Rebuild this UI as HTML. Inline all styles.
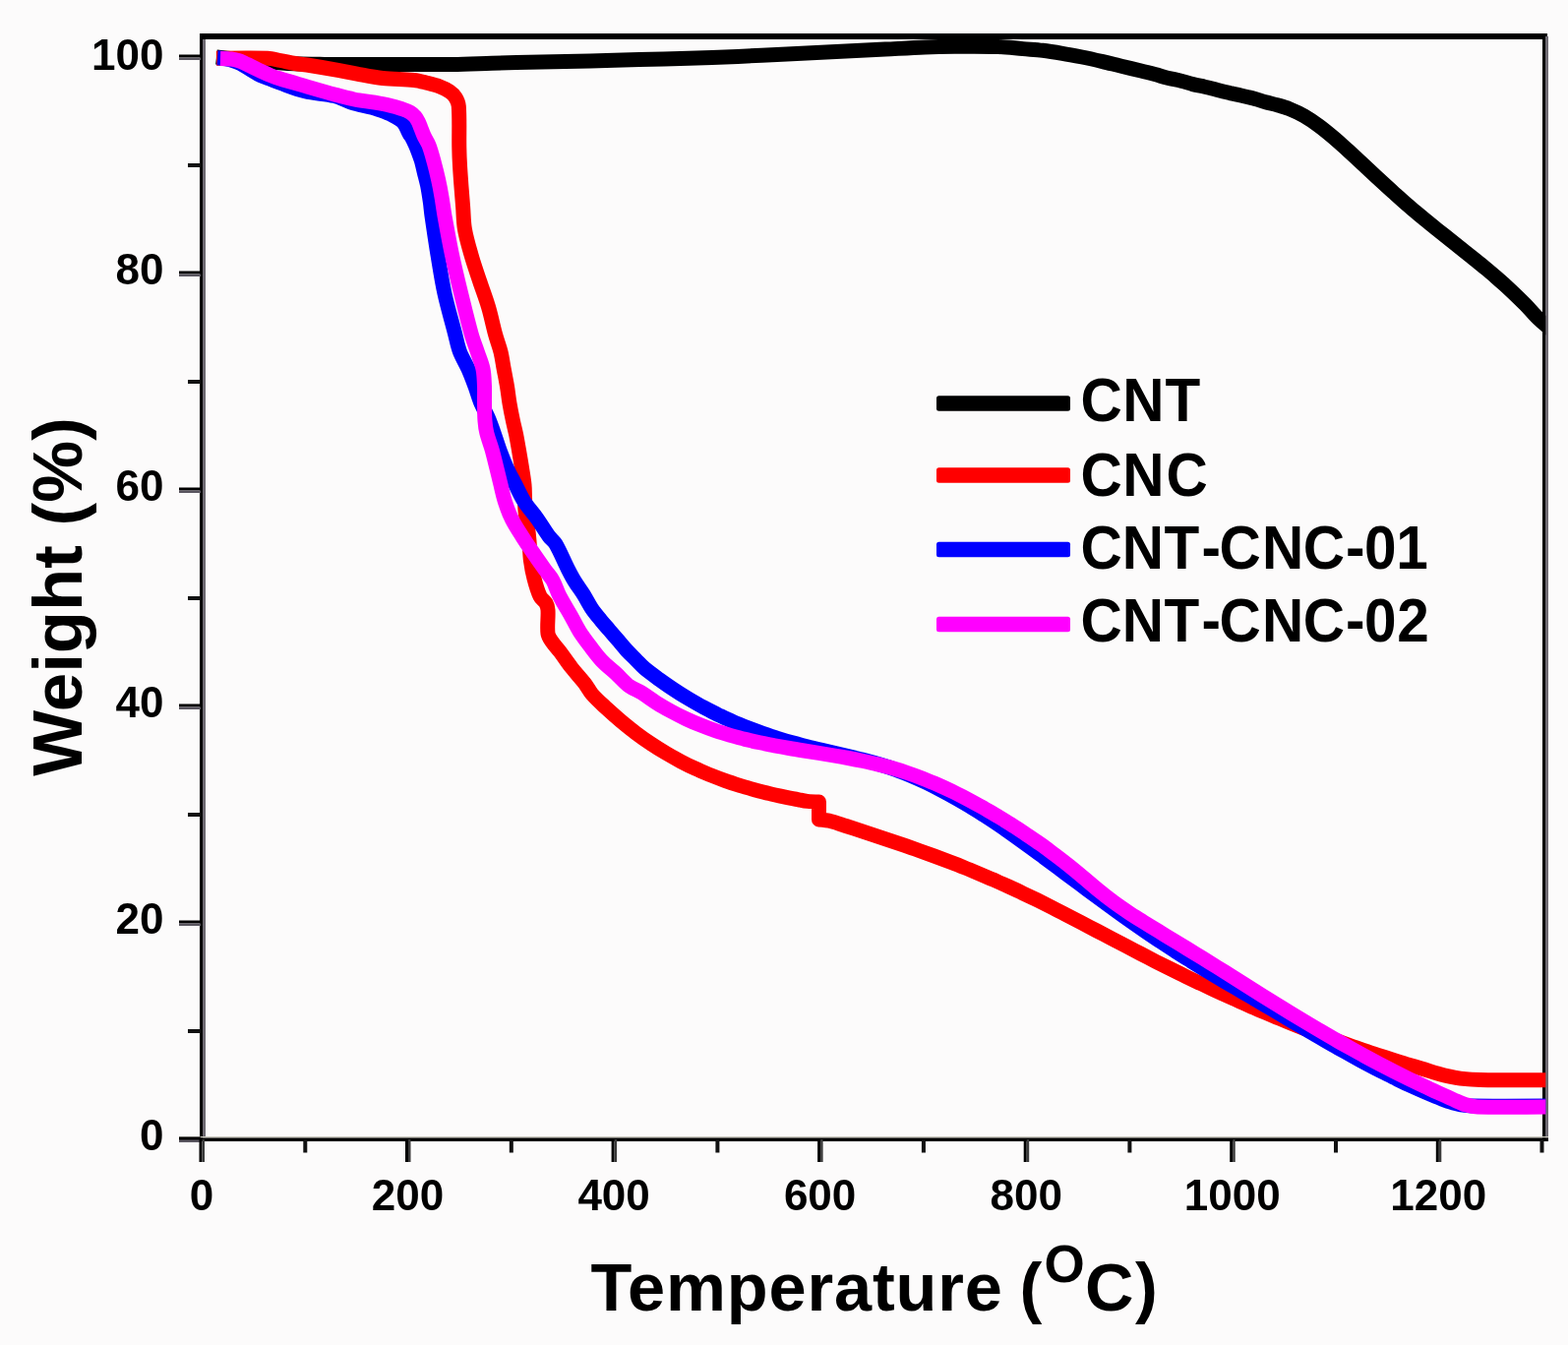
<!DOCTYPE html>
<html><head><meta charset="utf-8"><title>TGA</title>
<style>
html,body{margin:0;padding:0;background:#fcfbfb;}
svg{display:block;}
.tl{font-family:"Liberation Sans",Arial,sans-serif;font-weight:bold;font-size:44px;fill:#000;}
.lg{font-family:"Liberation Sans",Arial,sans-serif;font-weight:bold;font-size:58.5px;fill:#000;}
.ax{font-family:"Liberation Sans",Arial,sans-serif;font-weight:bold;fill:#000;}
</style></head>
<body>
<svg width="1594" height="1367" viewBox="0 0 1594 1367">
<rect x="0" y="0" width="1594" height="1367" fill="#fcfbfb"/>
<!-- frame -->
<rect x="203" y="34" width="1370" height="6" fill="#000"/>
<rect x="203" y="34" width="3" height="1126" fill="#000"/>
<rect x="206" y="40" width="3" height="1115" fill="#6e6a72"/>
<rect x="1568" y="34" width="3" height="1126" fill="#000"/>
<rect x="1571" y="37" width="3" height="1123" fill="#6e6a72"/>
<rect x="182" y="1155" width="1392" height="1.5" fill="#c9c7bd"/>
<rect x="182" y="1156.5" width="1392" height="3.5" fill="#000"/>
<rect x="182" y="1155.5" width="22" height="3" fill="#000"/><rect x="182" y="1158.5" width="22" height="2.5" fill="#5a5660"/><text x="166.5" y="1169.0" text-anchor="end" class="tl">0</text><rect x="182" y="935.5" width="22" height="3" fill="#000"/><rect x="182" y="938.5" width="22" height="2.5" fill="#5a5660"/><text x="166.5" y="949.0" text-anchor="end" class="tl">20</text><rect x="182" y="715.5" width="22" height="3" fill="#000"/><rect x="182" y="718.5" width="22" height="2.5" fill="#5a5660"/><text x="166.5" y="729.0" text-anchor="end" class="tl">40</text><rect x="182" y="495.5" width="22" height="3" fill="#000"/><rect x="182" y="498.5" width="22" height="2.5" fill="#5a5660"/><text x="166.5" y="509.0" text-anchor="end" class="tl">60</text><rect x="182" y="275.5" width="22" height="3" fill="#000"/><rect x="182" y="278.5" width="22" height="2.5" fill="#5a5660"/><text x="166.5" y="289.0" text-anchor="end" class="tl">80</text><rect x="182" y="55.5" width="22" height="3" fill="#000"/><rect x="182" y="58.5" width="22" height="2.5" fill="#5a5660"/><text x="166.5" y="71.0" text-anchor="end" class="tl">100</text><rect x="191" y="1046.0" width="13" height="4" fill="#111"/><rect x="191" y="826.0" width="13" height="4" fill="#111"/><rect x="191" y="606.0" width="13" height="4" fill="#111"/><rect x="191" y="386.0" width="13" height="4" fill="#111"/><rect x="191" y="166.0" width="13" height="4" fill="#111"/><rect x="202.5" y="1158" width="3" height="23" fill="#000"/><rect x="205.5" y="1158" width="2.5" height="23" fill="#3a3a3a"/><text x="205.0" y="1229.5" text-anchor="middle" class="tl">0</text><rect x="308.3" y="1158" width="4" height="13.5" fill="#111"/><rect x="412.0" y="1158" width="3" height="23" fill="#000"/><rect x="415.0" y="1158" width="2.5" height="23" fill="#3a3a3a"/><text x="414.5" y="1229.5" text-anchor="middle" class="tl">200</text><rect x="517.8" y="1158" width="4" height="13.5" fill="#111"/><rect x="621.6" y="1158" width="3" height="23" fill="#000"/><rect x="624.6" y="1158" width="2.5" height="23" fill="#3a3a3a"/><text x="624.1" y="1229.5" text-anchor="middle" class="tl">400</text><rect x="727.4" y="1158" width="4" height="13.5" fill="#111"/><rect x="831.1" y="1158" width="3" height="23" fill="#000"/><rect x="834.1" y="1158" width="2.5" height="23" fill="#3a3a3a"/><text x="833.6" y="1229.5" text-anchor="middle" class="tl">600</text><rect x="936.9" y="1158" width="4" height="13.5" fill="#111"/><rect x="1040.7" y="1158" width="3" height="23" fill="#000"/><rect x="1043.7" y="1158" width="2.5" height="23" fill="#3a3a3a"/><text x="1043.2" y="1229.5" text-anchor="middle" class="tl">800</text><rect x="1146.4" y="1158" width="4" height="13.5" fill="#111"/><rect x="1250.2" y="1158" width="3" height="23" fill="#000"/><rect x="1253.2" y="1158" width="2.5" height="23" fill="#3a3a3a"/><text x="1252.7" y="1229.5" text-anchor="middle" class="tl">1000</text><rect x="1356.0" y="1158" width="4" height="13.5" fill="#111"/><rect x="1459.8" y="1158" width="3" height="23" fill="#000"/><rect x="1462.8" y="1158" width="2.5" height="23" fill="#3a3a3a"/><text x="1462.3" y="1229.5" text-anchor="middle" class="tl">1200</text><rect x="1565.5" y="1158" width="4" height="13.5" fill="#111"/>
<defs><clipPath id="pc"><rect x="150" y="0" width="1421.3" height="1367"/></clipPath></defs>
<g fill="none" stroke-width="15" stroke-linejoin="round" stroke-linecap="butt" clip-path="url(#pc)">
<path stroke="#000" d="M220.0,58.0 C220.0,58.0 246.6,60.9 260.0,62.0 C273.3,63.1 286.6,64.2 300.0,64.8 C310.0,65.3 320.0,65.3 330.0,65.4 C353.3,65.5 376.7,65.4 400.0,65.4 C420.0,65.4 440.0,65.6 460.0,65.4 C473.3,65.2 486.7,64.6 500.0,64.2 C516.7,63.8 533.3,63.4 550.0,63.0 C566.7,62.6 583.3,62.4 600.0,62.0 C616.7,61.6 633.3,61.0 650.0,60.5 C666.7,60.1 683.3,59.8 700.0,59.3 C716.7,58.8 733.3,58.1 750.0,57.4 C766.7,56.7 783.3,55.8 800.0,55.0 C816.7,54.2 833.3,53.2 850.0,52.4 C866.7,51.6 883.3,50.9 900.0,50.1 C913.3,49.4 926.7,48.5 940.0,48.0 C950.0,47.6 960.0,47.4 970.0,47.3 C985.0,47.2 1000.0,47.0 1015.0,47.5 C1023.4,47.8 1031.7,48.9 1040.0,49.6 C1046.7,50.2 1053.4,50.5 1060.0,51.3 C1066.7,52.1 1073.4,53.2 1080.0,54.3 C1086.7,55.4 1093.4,56.7 1100.0,58.0 C1107.0,59.4 1114.0,61.0 1121.0,62.6 C1127.4,64.1 1133.7,65.8 1140.0,67.3 C1146.7,68.9 1153.3,70.4 1160.0,72.0 C1165.0,73.2 1170.0,74.5 1175.0,75.8 C1179.0,76.9 1183.0,78.2 1187.0,79.2 C1191.5,80.3 1196.2,81.1 1200.7,82.2 C1204.7,83.2 1208.7,84.6 1212.7,85.6 C1216.7,86.6 1220.7,87.3 1224.7,88.2 C1228.7,89.1 1232.8,90.2 1236.8,91.2 C1241.3,92.3 1245.8,93.5 1250.3,94.6 C1254.3,95.5 1258.4,96.3 1262.4,97.2 C1266.9,98.3 1271.4,99.4 1275.9,100.6 C1279.5,101.6 1282.9,102.7 1286.5,103.7 C1290.5,104.8 1294.5,105.6 1298.5,106.7 C1302.6,107.9 1306.7,109.0 1310.6,110.6 C1315.7,112.7 1320.8,115.0 1325.6,117.7 C1330.8,120.7 1335.8,124.1 1340.6,127.7 C1345.8,131.5 1350.7,135.6 1355.6,139.7 C1360.7,144.0 1365.6,148.6 1370.6,153.1 C1375.6,157.7 1380.6,162.4 1385.6,167.0 C1390.6,171.7 1395.6,176.4 1400.6,181.0 C1405.6,185.6 1410.6,190.2 1415.6,194.7 C1420.6,199.2 1425.5,203.7 1430.6,208.1 C1435.5,212.4 1440.6,216.6 1445.6,220.8 C1450.6,224.9 1455.6,229.0 1460.6,233.0 C1465.6,237.0 1470.6,240.9 1475.6,244.9 C1480.6,248.9 1485.6,252.8 1490.6,256.8 C1495.6,260.8 1500.6,264.8 1505.6,268.9 C1510.6,273.1 1515.7,277.2 1520.6,281.5 C1525.7,285.9 1530.7,290.4 1535.6,295.0 C1540.7,299.8 1545.7,304.6 1550.6,309.6 C1555.2,314.3 1559.4,319.4 1564.1,324.0 C1568.5,328.2 1578.0,336.0 1578.0,336.0"/>
<path stroke="#f00" d="M220.0,59.3 C220.0,59.3 254.7,58.7 272.0,59.3 C276.4,59.4 280.7,60.7 285.0,61.5 C290.0,62.4 295.0,63.7 300.0,64.5 C305.0,65.3 310.0,65.7 315.0,66.5 C325.0,68.1 335.0,69.8 345.0,71.6 C351.0,72.7 357.0,74.0 363.0,75.1 C371.7,76.7 380.3,78.5 389.0,79.5 C399.6,80.7 410.4,80.4 421.0,81.5 C425.1,81.9 429.0,83.0 433.0,84.0 C437.7,85.2 442.5,86.3 447.0,88.0 C450.5,89.3 453.9,90.9 457.0,93.0 C459.3,94.6 461.5,96.6 463.0,99.0 C464.7,101.7 466.1,104.8 466.3,108.0 C467.3,122.0 466.5,136.0 466.8,150.0 C466.9,156.7 467.2,163.3 467.6,170.0 C468.0,176.7 468.5,183.3 469.0,190.0 C469.5,196.7 470.1,203.3 470.6,210.0 C471.2,217.6 471.1,225.2 472.4,232.7 C473.9,241.6 476.5,250.3 479.0,259.0 C481.5,267.9 484.6,276.6 487.5,285.4 C490.4,294.2 493.8,302.8 496.4,311.7 C499.2,321.0 501.0,330.6 503.6,340.0 C505.2,345.9 507.5,351.6 509.0,357.6 C510.4,363.3 511.1,369.2 512.2,375.0 C513.3,380.9 514.5,386.8 515.5,392.7 C516.5,398.4 517.0,404.3 518.0,410.0 C519.0,416.0 520.2,422.0 521.5,428.0 C522.5,432.7 523.7,437.3 524.7,442.0 C525.7,447.2 526.6,452.4 527.5,457.6 C528.5,463.4 529.5,469.2 530.4,475.0 C531.3,480.9 532.4,486.8 533.0,492.7 C533.4,496.8 533.3,500.9 533.5,505.0 C533.7,509.7 533.6,514.4 534.0,519.0 C534.6,524.7 535.8,530.3 536.5,536.0 C537.1,540.7 537.6,545.3 538.0,550.0 C538.6,556.7 538.6,563.4 539.5,570.0 C540.3,576.1 541.4,582.1 543.0,588.0 C544.6,594.1 546.3,600.3 549.0,606.0 C550.3,608.8 553.5,610.3 555.0,613.0 C556.2,615.1 556.8,617.6 557.0,620.0 C557.5,628.0 556.0,636.1 557.0,644.0 C557.4,647.0 559.3,649.5 561.0,652.0 C563.4,655.6 566.4,658.6 569.0,662.0 C573.1,667.4 576.8,673.1 581.0,678.5 C585.3,684.0 590.2,689.1 594.5,694.6 C597.2,698.1 599.1,702.3 602.0,705.6 C606.6,710.9 611.9,715.5 617.0,720.3 C621.9,724.8 626.9,729.2 632.0,733.5 C636.9,737.6 641.9,741.6 647.0,745.4 C651.9,749.1 656.9,752.6 662.0,756.0 C666.9,759.3 671.9,762.4 677.0,765.4 C681.9,768.3 686.9,771.1 692.0,773.8 C696.9,776.4 701.9,778.9 707.0,781.2 C711.9,783.5 717.0,785.6 722.0,787.7 C727.0,789.7 732.0,791.6 737.0,793.4 C742.0,795.2 747.0,796.8 752.0,798.4 C757.0,799.9 762.0,801.3 767.0,802.7 C772.0,804.0 777.0,805.3 782.0,806.5 C787.0,807.7 792.0,808.8 797.0,809.9 C802.0,810.9 807.0,811.9 812.0,812.8 C814.9,813.4 817.8,814.1 820.8,814.4 C824.7,814.8 832.5,815.0 832.5,815.0 C832.5,815.0 832.5,833.0 832.5,833.0 C832.5,833.0 840.9,833.7 845.0,834.7 C850.1,835.9 855.0,837.9 860.0,839.5 C865.0,841.1 870.0,842.8 875.0,844.4 C880.0,846.0 885.0,847.7 890.0,849.3 C895.0,851.0 900.0,852.6 905.0,854.3 C910.0,856.0 915.0,857.7 920.0,859.4 C925.0,861.1 930.0,862.9 935.0,864.7 C940.0,866.5 945.0,868.3 950.0,870.1 C955.0,872.0 960.0,873.9 965.0,875.8 C970.0,877.7 975.0,879.6 980.0,881.6 C985.0,883.6 990.0,885.7 995.0,887.8 C1000.0,889.9 1005.0,892.0 1010.0,894.2 C1015.0,896.4 1020.0,898.6 1025.0,900.9 C1030.0,903.2 1035.0,905.5 1040.0,907.9 C1045.0,910.3 1050.0,912.7 1055.0,915.1 C1060.0,917.6 1065.0,920.1 1070.0,922.6 C1075.0,925.1 1080.0,927.7 1085.0,930.3 C1090.0,932.9 1095.0,935.5 1100.0,938.1 C1105.0,940.7 1110.0,943.4 1115.0,946.0 C1120.0,948.6 1125.0,951.3 1130.0,953.9 C1135.0,956.5 1140.0,959.1 1145.0,961.7 C1150.0,964.3 1155.0,966.9 1160.0,969.5 C1165.0,972.1 1170.0,974.7 1175.0,977.3 C1180.0,979.8 1185.0,982.3 1190.0,984.8 C1195.0,987.3 1200.0,989.8 1205.0,992.2 C1210.0,994.6 1215.0,997.0 1220.0,999.4 C1225.0,1001.8 1230.0,1004.1 1235.0,1006.4 C1240.0,1008.7 1245.0,1011.0 1250.0,1013.3 C1255.0,1015.6 1260.0,1017.8 1265.0,1020.0 C1270.0,1022.2 1275.0,1024.3 1280.0,1026.5 C1285.0,1028.6 1290.0,1030.8 1295.0,1032.9 C1300.0,1035.0 1305.0,1037.0 1310.0,1039.0 C1315.0,1041.0 1320.0,1043.0 1325.0,1045.0 C1330.0,1047.0 1335.0,1048.9 1340.0,1050.8 C1345.0,1052.7 1350.0,1054.6 1355.0,1056.4 C1360.0,1058.2 1365.0,1060.0 1370.0,1061.8 C1375.0,1063.6 1380.0,1065.4 1385.0,1067.1 C1390.0,1068.8 1395.0,1070.5 1400.0,1072.1 C1405.0,1073.7 1410.0,1075.3 1415.0,1076.9 C1420.0,1078.5 1425.0,1080.1 1430.0,1081.6 C1435.0,1083.1 1440.0,1084.5 1445.0,1086.0 C1452.8,1088.3 1460.6,1090.9 1468.5,1093.0 C1472.3,1094.0 1476.1,1094.7 1480.0,1095.3 C1483.3,1095.9 1486.7,1096.3 1490.0,1096.6 C1495.0,1097.0 1500.0,1097.2 1505.0,1097.4 C1510.0,1097.6 1515.0,1097.7 1520.0,1097.7 C1539.3,1097.8 1578.0,1097.7 1578.0,1097.7"/>
<path stroke="#00f" d="M221.0,58.8 C221.0,58.8 227.0,59.2 230.0,59.8 C233.1,60.4 236.0,61.3 239.0,62.3 C241.1,63.0 243.1,63.8 245.0,64.8 C248.1,66.5 251.0,68.5 254.0,70.3 C256.0,71.5 258.0,72.8 260.0,74.0 C262.0,75.1 263.9,76.3 266.0,77.2 C268.9,78.5 272.0,79.4 275.0,80.5 C278.0,81.6 281.0,82.9 284.0,84.0 C292.6,87.0 301.1,90.6 310.0,92.7 C319.8,95.1 330.1,95.2 340.0,97.5 C345.5,98.8 350.4,101.8 355.7,103.6 C360.0,105.1 364.5,106.1 368.9,107.2 C372.8,108.2 376.9,108.9 380.8,110.0 C384.0,110.9 387.1,112.1 390.2,113.2 C392.3,114.0 394.5,114.7 396.5,115.7 C398.4,116.6 400.3,117.7 402.1,118.8 C403.6,119.7 405.1,120.5 406.5,121.5 C407.9,122.6 409.4,123.6 410.5,125.0 C411.7,126.5 412.4,128.3 413.3,130.0 C414.3,131.9 415.1,134.0 416.2,135.9 C417.1,137.5 418.2,138.9 419.1,140.5 C420.2,142.4 421.1,144.5 422.0,146.5 C423.2,149.2 424.3,151.9 425.3,154.6 C426.4,157.6 427.6,160.5 428.5,163.6 C429.6,167.6 430.4,171.6 431.4,175.6 C432.5,179.9 433.7,184.2 434.6,188.5 C435.7,194.0 436.5,199.5 437.3,205.0 C438.0,209.8 438.3,214.7 439.0,219.5 C440.9,232.7 442.8,245.9 445.0,259.0 C447.2,272.2 449.1,285.4 452.0,298.5 C455.0,312.1 459.0,325.5 462.5,339.0 C464.1,345.2 465.2,351.6 467.5,357.6 C469.8,363.6 473.4,369.1 476.0,375.0 C478.6,380.8 480.8,386.8 483.0,392.7 C485.1,398.4 486.7,404.4 489.0,410.0 C491.0,414.8 493.9,419.2 496.0,424.0 C498.3,429.2 500.1,434.6 502.0,440.0 C504.1,445.8 505.8,451.8 508.0,457.6 C510.2,463.5 512.4,469.3 515.0,475.0 C517.7,481.0 521.0,486.8 524.0,492.7 C527.0,498.5 529.5,504.5 533.0,510.0 C536.9,516.0 541.9,521.2 546.0,527.0 C550.2,532.9 553.7,539.2 558.0,545.0 C560.1,547.9 563.2,549.9 565.0,553.0 C569.8,561.3 573.3,570.4 577.7,579.0 C579.6,582.7 581.5,586.4 583.7,590.0 C586.7,595.0 590.3,599.6 593.4,604.5 C596.2,609.0 598.4,613.8 601.4,618.2 C604.2,622.4 607.5,626.3 610.7,630.2 C613.5,633.7 616.6,637.1 619.5,640.5 C622.4,643.9 625.4,647.3 628.3,650.7 C631.2,654.1 634.0,657.7 637.1,661.0 C640.0,664.1 643.0,667.0 646.0,670.0 C649.1,673.1 652.0,676.5 655.3,679.3 C660.1,683.3 665.2,686.9 670.3,690.6 C675.2,694.2 680.2,697.6 685.3,701.0 C690.2,704.3 695.2,707.4 700.3,710.4 C705.2,713.3 710.2,716.2 715.3,718.9 C720.2,721.6 725.3,724.1 730.3,726.6 C735.3,729.0 740.2,731.4 745.3,733.6 C750.3,735.8 755.3,737.8 760.3,739.8 C765.3,741.7 770.3,743.5 775.3,745.3 C780.3,747.0 785.3,748.7 790.3,750.3 C795.3,751.9 800.3,753.4 805.3,754.8 C810.3,756.2 815.3,757.4 820.3,758.7 C825.3,760.0 830.3,761.2 835.3,762.4 C840.3,763.6 845.3,764.7 850.3,765.9 C855.3,767.1 860.3,768.2 865.3,769.4 C870.3,770.6 875.3,771.8 880.3,773.1 C885.3,774.4 890.3,775.8 895.3,777.3 C900.3,778.8 905.4,780.4 910.3,782.2 C915.4,784.0 920.3,786.0 925.3,788.1 C930.3,790.2 935.4,792.5 940.3,794.8 C945.4,797.2 950.3,799.7 955.3,802.3 C960.3,804.9 965.3,807.6 970.3,810.4 C975.3,813.2 980.4,816.1 985.3,819.1 C990.4,822.1 995.3,825.3 1000.3,828.5 C1005.3,831.7 1010.3,835.0 1015.3,838.4 C1020.3,841.8 1025.3,845.3 1030.3,848.8 C1035.3,852.4 1040.3,856.0 1045.3,859.6 C1050.3,863.2 1055.3,866.9 1060.3,870.6 C1065.3,874.3 1070.3,878.1 1075.3,881.8 C1080.3,885.5 1085.3,889.3 1090.3,893.0 C1095.3,896.7 1100.3,900.5 1105.3,904.2 C1110.3,907.9 1115.3,911.5 1120.3,915.2 C1125.3,918.8 1130.3,922.5 1135.3,926.1 C1140.3,929.7 1145.3,933.3 1150.3,936.8 C1155.3,940.3 1160.3,943.8 1165.3,947.2 C1170.3,950.6 1175.3,954.0 1180.3,957.3 C1185.3,960.6 1190.3,963.9 1195.3,967.1 C1200.3,970.3 1205.3,973.4 1210.3,976.5 C1215.3,979.6 1220.3,982.7 1225.3,985.7 C1230.3,988.7 1235.3,991.7 1240.3,994.7 C1245.3,997.7 1250.3,1000.6 1255.3,1003.5 C1260.3,1006.5 1265.3,1009.4 1270.3,1012.4 C1275.3,1015.3 1280.3,1018.3 1285.3,1021.2 C1290.3,1024.2 1295.3,1027.1 1300.3,1030.1 C1305.3,1033.1 1310.3,1036.0 1315.3,1039.0 C1320.3,1041.9 1325.3,1044.9 1330.3,1047.8 C1335.3,1050.7 1340.3,1053.6 1345.3,1056.5 C1350.3,1059.4 1355.3,1062.3 1360.3,1065.1 C1365.3,1067.9 1370.3,1070.7 1375.3,1073.5 C1380.3,1076.2 1385.3,1078.9 1390.3,1081.6 C1395.3,1084.2 1400.3,1086.8 1405.3,1089.4 C1410.3,1091.9 1415.3,1094.5 1420.3,1096.9 C1425.3,1099.3 1430.3,1101.7 1435.3,1104.0 C1440.3,1106.3 1445.3,1108.5 1450.3,1110.6 C1455.3,1112.7 1460.3,1114.8 1465.3,1116.8 C1467.0,1117.5 1468.7,1118.3 1470.4,1118.8 C1475.4,1120.3 1480.3,1122.0 1485.4,1123.0 C1489.2,1123.7 1493.1,1124.0 1497.0,1124.0 C1524.0,1124.3 1578.0,1124.0 1578.0,1124.0"/>
<path stroke="#f0f" d="M224.0,59.4 C224.0,59.4 231.4,59.6 235.0,60.0 C237.4,60.3 239.7,60.8 242.0,61.5 C244.1,62.1 246.0,62.9 248.0,63.8 C250.0,64.7 252.0,65.8 254.0,66.8 C256.0,67.8 258.0,68.8 260.0,69.8 C262.0,70.8 264.0,71.7 266.0,72.6 C269.0,74.0 272.0,75.4 275.0,76.6 C278.0,77.8 281.0,78.9 284.0,79.8 C292.6,82.5 301.3,84.9 310.0,87.4 C320.0,90.3 330.0,93.3 340.0,96.0 C346.6,97.8 353.3,99.7 360.0,101.0 C366.9,102.4 374.0,103.0 381.0,104.2 C386.2,105.1 391.4,106.0 396.5,107.2 C400.5,108.1 404.5,109.3 408.4,110.6 C411.3,111.6 414.3,112.6 417.0,114.2 C418.9,115.3 420.6,116.8 422.0,118.5 C423.4,120.1 424.4,122.0 425.4,123.9 C426.4,125.9 427.0,128.0 427.8,130.0 C428.9,132.7 429.8,135.4 431.0,138.0 C432.5,141.3 434.7,144.2 436.0,147.6 C438.2,153.3 439.7,159.2 441.3,165.1 C442.9,170.9 444.3,176.8 445.6,182.7 C446.9,188.5 448.0,194.3 449.0,200.2 C450.1,206.6 450.9,213.1 452.0,219.5 C454.4,232.7 456.7,245.9 459.5,259.0 C462.3,272.2 465.5,285.4 468.7,298.5 C472.1,312.4 475.4,326.3 479.3,340.0 C481.0,346.0 483.3,351.7 485.3,357.6 C487.2,363.4 489.8,369.0 491.0,375.0 C492.2,380.8 492.2,386.8 492.5,392.7 C492.7,398.5 492.4,404.2 492.5,410.0 C492.6,416.0 492.5,422.0 493.0,428.0 C493.3,432.0 493.8,436.1 494.8,440.0 C496.3,446.0 498.6,451.7 500.3,457.6 C501.9,463.4 503.3,469.2 504.7,475.0 C506.2,480.9 507.5,486.8 509.0,492.7 C510.4,498.5 511.6,504.3 513.4,510.0 C515.4,516.1 517.6,522.2 520.5,528.0 C523.5,534.1 527.4,539.7 531.0,545.4 C534.1,550.3 537.4,555.2 540.7,560.0 C545.1,566.4 549.5,572.7 554.0,579.0 C556.6,582.7 559.8,586.0 562.0,590.0 C564.7,594.8 566.0,600.2 568.5,605.0 C572.2,612.2 576.5,619.0 580.5,626.0 C583.5,631.3 586.1,636.9 589.3,642.0 C592.5,647.1 596.2,651.8 599.8,656.6 C603.6,661.6 607.2,666.7 611.5,671.2 C616.0,676.0 621.3,680.0 626.1,684.4 C630.8,688.7 634.9,693.7 640.0,697.5 C643.8,700.3 648.4,701.7 652.4,704.2 C657.5,707.4 662.3,711.1 667.4,714.3 C672.3,717.4 677.3,720.2 682.4,723.0 C687.3,725.7 692.3,728.2 697.4,730.6 C702.3,732.9 707.3,735.1 712.4,737.1 C717.3,739.1 722.4,741.0 727.4,742.7 C732.4,744.4 737.4,745.9 742.4,747.4 C747.4,748.8 752.4,750.2 757.4,751.4 C762.4,752.6 767.4,753.7 772.4,754.8 C777.4,755.9 782.4,756.8 787.4,757.8 C792.4,758.7 797.4,759.6 802.4,760.5 C807.4,761.4 812.4,762.2 817.4,763.0 C822.4,763.8 827.4,764.6 832.4,765.4 C837.4,766.2 842.4,767.1 847.4,767.9 C852.4,768.8 857.4,769.6 862.4,770.5 C867.4,771.4 872.4,772.4 877.4,773.5 C882.4,774.6 887.4,775.7 892.4,776.9 C897.4,778.1 902.4,779.4 907.4,780.8 C912.4,782.2 917.4,783.8 922.4,785.5 C927.4,787.2 932.4,789.0 937.4,790.9 C942.4,792.9 947.4,794.9 952.4,797.1 C957.4,799.3 962.4,801.6 967.4,804.0 C972.4,806.4 977.4,809.0 982.4,811.6 C987.4,814.3 992.4,817.0 997.4,819.8 C1002.4,822.6 1007.4,825.6 1012.4,828.5 C1017.4,831.5 1022.5,834.5 1027.4,837.6 C1032.5,840.8 1037.4,844.1 1042.4,847.4 C1047.4,850.8 1052.5,854.2 1057.4,857.7 C1062.5,861.3 1067.4,865.0 1072.4,868.7 C1077.4,872.5 1082.5,876.4 1087.4,880.3 C1092.5,884.4 1097.4,888.5 1102.4,892.7 C1107.4,896.9 1112.3,901.2 1117.4,905.3 C1122.3,909.3 1127.3,913.2 1132.4,917.0 C1137.3,920.6 1142.3,924.0 1147.4,927.4 C1152.3,930.7 1157.4,933.8 1162.4,937.0 C1167.4,940.1 1172.4,943.1 1177.4,946.2 C1182.4,949.3 1187.4,952.3 1192.4,955.4 C1197.4,958.4 1202.4,961.5 1207.4,964.5 C1212.4,967.6 1217.4,970.6 1222.4,973.7 C1227.4,976.8 1232.4,979.9 1237.4,983.0 C1242.4,986.1 1247.4,989.3 1252.4,992.4 C1257.4,995.6 1262.4,998.7 1267.4,1001.9 C1272.4,1005.0 1277.4,1008.2 1282.4,1011.3 C1287.4,1014.4 1292.4,1017.5 1297.4,1020.6 C1302.4,1023.7 1307.4,1026.8 1312.4,1029.9 C1317.4,1032.9 1322.4,1035.9 1327.4,1038.9 C1332.4,1041.9 1337.4,1044.9 1342.4,1047.8 C1347.4,1050.7 1352.4,1053.6 1357.4,1056.5 C1362.4,1059.4 1367.4,1062.2 1372.4,1065.0 C1377.4,1067.8 1382.4,1070.6 1387.4,1073.3 C1392.4,1076.0 1397.4,1078.7 1402.4,1081.3 C1407.4,1083.9 1412.4,1086.5 1417.4,1089.1 C1422.4,1091.6 1427.4,1094.1 1432.4,1096.6 C1437.4,1099.0 1442.4,1101.4 1447.4,1103.8 C1452.4,1106.2 1457.4,1108.5 1462.4,1110.8 C1467.4,1113.1 1472.4,1115.3 1477.4,1117.5 C1481.5,1119.3 1485.6,1121.5 1489.9,1122.8 C1493.8,1124.0 1497.9,1124.9 1502.0,1125.0 C1527.3,1125.6 1578.0,1125.0 1578.0,1125.0"/>
</g>
<rect x="952" y="402.3" width="136" height="15.4" rx="2.5" fill="#000"/><text x="1098.4 1141.3 1184.5" y="0" transform="translate(0,427.5) scale(1,1.07)" class="lg">CNT</text><rect x="952" y="475.3" width="136" height="15.4" rx="2.5" fill="#f00"/><text x="1098.4 1141.3 1185.5" y="0" transform="translate(0,503.5) scale(1,1.07)" class="lg">CNC</text><rect x="952" y="550.8" width="136" height="15.4" rx="2.5" fill="#00f"/><text x="1098.4 1140.7 1183.5 1221.6 1239.5 1283 1324.8 1368.1 1387.1 1419.2" y="0" transform="translate(0,578.0) scale(1,1.07)" class="lg">CNT-CNC-01</text><rect x="952" y="626.8" width="136" height="15.4" rx="2.5" fill="#f0f"/><text x="1098.4 1140.7 1183.5 1221.6 1239.5 1283 1324.8 1368.1 1387.1 1420.2" y="0" transform="translate(0,652.3) scale(1,1.07)" class="lg">CNT-CNC-02</text>
<text class="ax" x="600.5" y="1332" font-size="68.5" letter-spacing="0.85">Temperature</text>
<text class="ax" x="1036.5" y="1332" font-size="68.5">(</text>
<text class="ax" x="1061.5" y="1302.5" font-size="53">O</text>
<text class="ax" x="1103" y="1332" font-size="68.5">C</text>
<text class="ax" x="1154" y="1332" font-size="68.5">)</text>
<text class="ax" font-size="70.8" text-anchor="middle" transform="translate(83,606.5) rotate(-90)">Weight (%)</text>
</svg>
</body></html>
